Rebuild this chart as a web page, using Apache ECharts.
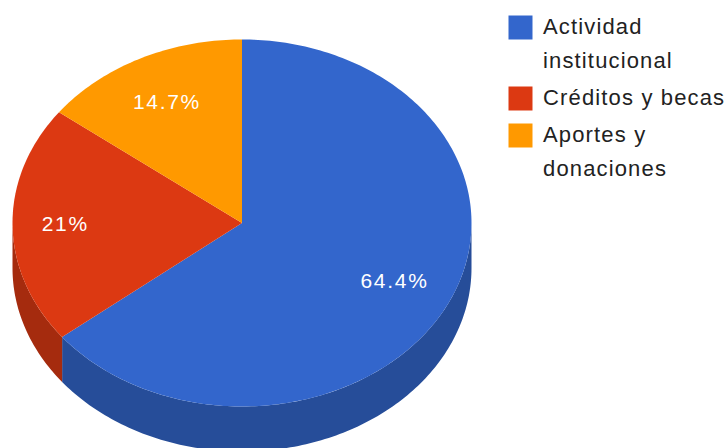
<!DOCTYPE html>
<html>
<head>
<meta charset="utf-8">
<style>
html,body{margin:0;padding:0;background:#fff}
#chart{width:728px;height:448px}
#chart text{letter-spacing:1.15px}
#chart text[fill="#fff"]{letter-spacing:1.7px}
</style>
<script src="https://cdn.jsdelivr.net/npm/echarts@6/dist/echarts.min.js"></script>
</head>
<body>
<div id="chart"></div>
<script>
// Funding sources, in percent
const categories = ['Actividad institucional', 'Créditos y becas', 'Aportes y donaciones'];
const legendLines = [['Actividad', 'institucional'], ['Créditos y becas'], ['Aportes y', 'donaciones']];
const values = [64.4, 21, 14.7];
const valueLabels = ['64.4%', '21%', '14.7%'];
const topColors = ['#3366cc', '#dc3912', '#ff9900'];
const wallColors = ['#264d99', '#a52b0e', '#bf7300'];

// Tilted disc geometry
const CX = 242, CY = 223, RX = 229.5, RY = 183.5, DEPTH = 45;
const LABEL_RADII = [0.738, 0.77, 0.735];
const FONT_LEGEND = '22px "Liberation Sans", Arial, sans-serif';
const FONT_VALUE = '21px "Liberation Sans", Arial, sans-serif';

const total = values.reduce((a, b) => a + b, 0);
const rim = (deg, dy) => {
  const t = deg * Math.PI / 180;
  return [CX + RX * Math.sin(t), CY - RY * Math.cos(t) + (dy || 0)];
};
const arc = (from, to, dy) => {
  const pts = [];
  const n = Math.max(2, Math.ceil(Math.abs(to - from)));
  for (let i = 0; i <= n; i++) pts.push(rim(from + (to - from) * i / n, dy));
  return pts;
};

function renderSlice(params, api) {
  const i = params.dataIndex;
  let before = 0;
  for (let k = 0; k < i; k++) before += values[k];
  const start = before / total * 360;
  const end = start + api.value(0) / total * 360;
  const children = [];
  // Only the part of the rim facing the viewer (90° to 270°) shows a wall
  const wFrom = Math.max(start, 90), wTo = Math.min(end, 270);
  if (wTo > wFrom) {
    children.push({
      type: 'polygon',
      shape: { points: arc(wFrom, wTo, 0).concat(arc(wTo, wFrom, DEPTH)) },
      style: { fill: wallColors[i] }
    });
  }
  children.push({
    type: 'polygon',
    shape: { points: [[CX, CY]].concat(arc(start, end, 0)) },
    style: { fill: topColors[i] }
  });
  const mid = (start + end) / 2 * Math.PI / 180;
  children.push({
    type: 'text',
    x: CX + RX * LABEL_RADII[i] * Math.sin(mid),
    y: CY - RY * LABEL_RADII[i] * Math.cos(mid) - 1,
    z2: 10,
    style: { text: valueLabels[i], fill: '#fff', font: FONT_VALUE, align: 'center', verticalAlign: 'middle' }
  });
  return { type: 'group', children };
}

// Legend rows: swatch beside the first text line
const LEGEND_X = 508.5, TEXT_X = 543, SWATCH = 24, LINE = 34, ROW_GAP = 3;
const legendGraphics = [];
let rowY = 26;
legendLines.forEach((lines, i) => {
  legendGraphics.push({
    type: 'rect', x: LEGEND_X, y: rowY - 10.5,
    shape: { width: SWATCH, height: SWATCH },
    style: { fill: topColors[i] }
  });
  lines.forEach((line, j) => {
    legendGraphics.push({
      type: 'text', x: TEXT_X, y: rowY + j * LINE,
      style: { text: line, fill: '#222', font: FONT_LEGEND, align: 'left', verticalAlign: 'middle' }
    });
  });
  rowY += lines.length * LINE + ROW_GAP;
});

const chart = echarts.init(document.getElementById('chart'), null, { renderer: 'svg' });
chart.setOption({
  animation: false,
  backgroundColor: '#ffffff',
  graphic: { elements: legendGraphics },
  series: [{
    type: 'custom',
    coordinateSystem: 'none',
    clip: false,
    data: values.map((v, i) => ({ name: categories[i], value: [v] })),
    renderItem: renderSlice
  }]
});
</script>
</body>
</html>
